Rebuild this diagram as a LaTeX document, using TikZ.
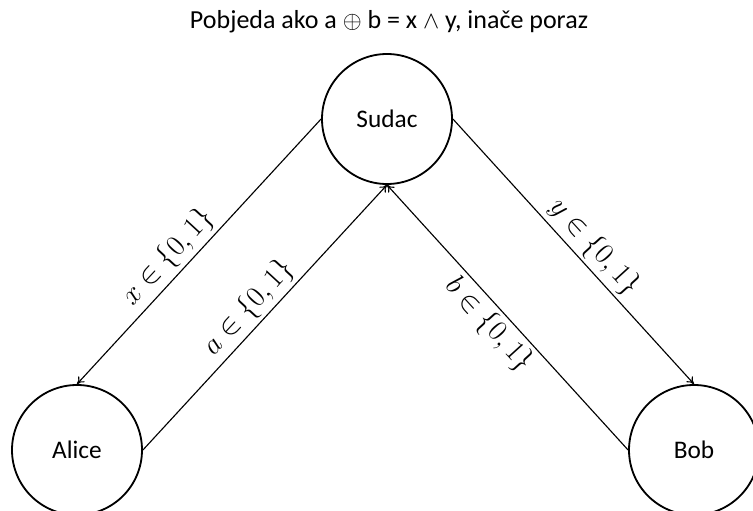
\documentclass[tikz,border=0pt]{standalone}
\usepackage{fontspec}
\setmainfont{Carlito}
\usepackage{tikz}
\usetikzlibrary{arrows.meta,positioning}

\begin{document}
\begin{tikzpicture}[
    player/.style={circle, draw, line width=1.3pt, minimum size=3.25cm, inner sep=0pt, font=\fontsize{18}{20}\selectfont},
    msg/.style={-{To[length=5pt,width=6pt]}, line width=0.8pt},
    bit/.style={sloped, above, inner sep=2.5pt, font=\fontsize{21}{23}\selectfont}
]
    \useasboundingbox (0,0) rectangle (18.825,12.75);

    \node[font=\fontsize{18.5}{21}\selectfont] (title) at (9.725,12.2) {Pobjeda ako a $\oplus$ b = x $\wedge$ y, inače poraz};

    \node[player] (sudac) at (9.675,9.775) {Sudac};
    \node[player] (alice) at (1.925,1.5) {Alice};
    \node[player] (bob) at (17.35,1.5) {Bob};

    \draw[msg] (sudac.west) -- (alice.north) node[bit, pos=0.57] {$x \in \{0,1\}$};
    \draw[msg] (alice.east) -- (sudac.south) node[bit, pos=0.49] {$a \in \{0,1\}$};
    \draw[msg] (sudac.east) -- (bob.north) node[bit, pos=0.53] {$y \in \{0,1\}$};
    \draw[msg] (bob.west) -- (sudac.south) node[bit, below, pos=0.52] {$b \in \{0,1\}$};
\end{tikzpicture}
\end{document}
